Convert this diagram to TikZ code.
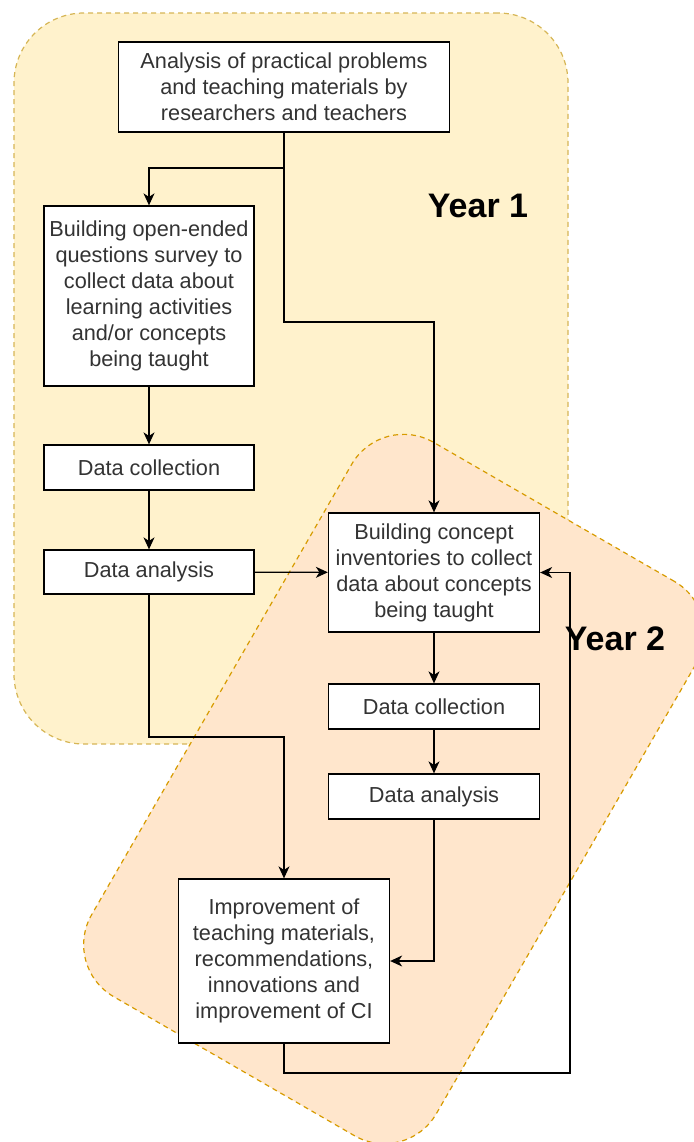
\documentclass[tikz,border=0pt]{standalone}
\usepackage{fontspec}
\setmainfont{Liberation Sans}
\usetikzlibrary{arrows.meta,positioning,shapes}
\definecolor{YOneFill}{HTML}{FFF2CC}
\definecolor{YOneLine}{HTML}{D6B656}
\definecolor{YTwoFill}{HTML}{FFE6CC}
\definecolor{YTwoLine}{HTML}{D79B00}
\definecolor{BoxText}{HTML}{333333}
\tikzset{
    block/.style = {draw, rectangle, fill=white, line width=0.65pt,
        inner sep=0pt, align=center, text=BoxText,
        font=\fontsize{10.85}{13}\selectfont},
    yearbox/.style = {rectangle, dash pattern=on 2.5pt off 2pt,
        line width=0.6pt, inner sep=0pt},
    yearlabel/.style = {font=\fontsize{17}{20}\selectfont\bfseries, inner sep=0pt},
    arrow/.style = {draw, line width=0.6pt,
        -{Stealth[length=6pt,width=5.5pt,inset=1.8pt]}}
}

\begin{document}
\begin{tikzpicture}[x=0.5pt, y=-0.5pt]
  \useasboundingbox (0,0) rectangle (694,1142);
  % year frames
  \node[yearbox, fill=YOneFill, draw=YOneLine, minimum width=277pt,
    minimum height=365.5pt, rounded corners=35pt] (year1) at (291,378.5) {};
  \node[yearbox, fill=YTwoFill, draw=YTwoLine, minimum width=199pt,
    minimum height=320pt, rounded corners=30pt, rotate=-30] (year2) at (394,789) {};
  \node[yearlabel] (lblyear1) at (478,205.5) {Year 1};
  \node[yearlabel] (lblyear2) at (615,638.5) {Year 2};

  % steps
  \node[block, minimum width=165.5pt, minimum height=45pt] (analysis) at (284,87)
    {Analysis of practical problems\\and teaching materials by\\researchers and teachers};
  \node[block, minimum width=105pt, minimum height=90pt] (survey) at (149,296)
    {Building open-ended\\questions survey to\\collect data about\\learning activities\\and/or concepts\\being taught};
  \node[block, minimum width=105pt, minimum height=22.5pt] (collectA) at (149,467.5) {Data collection};
  \node[block, minimum width=105pt, minimum height=22pt] (analyseA) at (149,572) {Data analysis};
  \node[block, minimum width=105.5pt, minimum height=59.5pt] (inventory) at (434,572.5)
    {Building concept\\inventories to collect\\data about concepts\\being taught};
  \node[block, minimum width=105.5pt, minimum height=22.5pt] (collectB) at (434,706.5) {Data collection};
  \node[block, minimum width=105.5pt, minimum height=22.5pt] (analyseB) at (434,796.5) {Data analysis};
  \node[block, minimum width=105.5pt, minimum height=82pt] (improve) at (284,961)
    {Improvement of\\teaching materials,\\recommendations,\\innovations and\\improvement of CI};

  % connectors
  \coordinate (split) at (284,168);
  \coordinate (bendA) at (284,322);
  \coordinate (bendD) at (149,737);
  \coordinate (loop) at (570,1073);
  \draw[arrow] (analysis.south) -- (split) -| (survey.north);
  \draw[arrow] (split) -- (bendA) -| (inventory.north);
  \draw[arrow] (survey) -- (collectA);
  \draw[arrow] (collectA) -- (analyseA);
  \draw[arrow] (analyseA) -- (inventory);
  \draw[arrow] (analyseA.south) -- (bendD) -| (improve.north);
  \draw[arrow] (inventory) -- (collectB);
  \draw[arrow] (collectB) -- (analyseB);
  \draw[arrow] (analyseB.south) |- (improve.east);
  \draw[arrow] (improve.south) |- (loop) |- (inventory.east);
\end{tikzpicture}
\end{document}
